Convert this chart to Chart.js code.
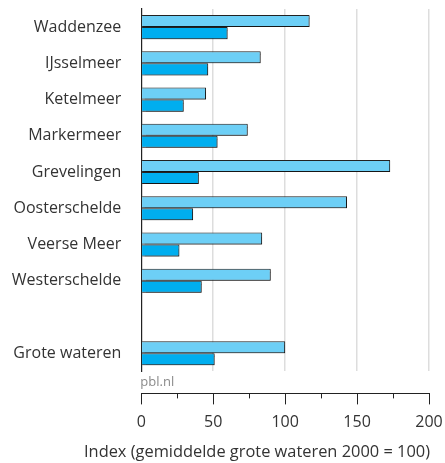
<!DOCTYPE html>
<html>
<head>
<meta charset="utf-8">
<script src="https://cdn.jsdelivr.net/npm/chart.js@4"></script>
<style>
  html, body { margin: 0; padding: 0; background: #fff; }
  #wrap { width: 445px; height: 463px; }
</style>
</head>
<body>
<div id="wrap"><canvas id="c"></canvas></div>
<script>
// Waters (an empty slot separates the individual waters from the total)
const categories = ['Waddenzee', 'IJsselmeer', 'Ketelmeer', 'Markermeer', 'Grevelingen',
  'Oosterschelde', 'Veerse Meer', 'Westerschelde', '', 'Grote wateren'];
// Index values (average of large waters in 2000 = 100)
const seriesLight = [117, 83, 45, 74, 173, 143, 84, 90, null, 100];
const seriesDark  = [60, 46.5, 29.5, 53, 40, 36, 26.5, 42, null, 51];
const xTicks = [0, 50, 100, 150, 200];
const minorTicks = [25, 75, 125, 175];
const axisTitle = 'Index (gemiddelde grote wateren 2000 = 100)';
const sourceNote = 'pbl.nl';

const FONT = '"Open Sans", "Noto Sans", sans-serif';
const TEXT = '#333333';

// drop shadow under bars, source note, minor ticks and the axis title
const extras = {
  id: 'extras',
  beforeDatasetsDraw(chart) {
    const ctx = chart.ctx;
    ctx.save();
    ctx.shadowColor = 'rgba(0,0,0,0.35)';
    ctx.shadowOffsetX = 1;
    ctx.shadowOffsetY = 1;
    ctx.shadowBlur = 1;
  },
  afterDatasetsDraw(chart) {
    chart.ctx.restore();
  },
  afterDraw(chart) {
    const ctx = chart.ctx;
    const area = chart.chartArea;
    const ax = chart.scales.x2;
    ctx.save();
    ctx.font = '13px ' + FONT;
    ctx.fillStyle = '#8a8a8a';
    ctx.textAlign = 'left';
    ctx.textBaseline = 'middle';
    ctx.fillText(sourceNote, area.left - 1, area.bottom + 11);

    ctx.strokeStyle = '#222';
    ctx.lineWidth = 1;
    minorTicks.forEach(v => {
      const x = Math.round(ax.getPixelForValue(v)) + 0.5;
      ctx.beginPath();
      ctx.moveTo(x, ax.top);
      ctx.lineTo(x, ax.top + 5);
      ctx.stroke();
    });

    // axis title, right-aligned with the plot and free to extend to the left
    ctx.font = '16.4px ' + FONT;
    ctx.fillStyle = TEXT;
    ctx.textAlign = 'right';
    ctx.textBaseline = 'alphabetic';
    ctx.fillText(axisTitle, area.right + 1, ax.bottom - 6);
    ctx.restore();
  }
};

const noSidePad = s => { s.paddingLeft = 0; s.paddingRight = 0; };

new Chart(document.getElementById('c'), {
  type: 'bar',
  data: {
    labels: categories,
    datasets: [
      { data: seriesLight, backgroundColor: '#6dcff6', borderColor: '#222', borderWidth: 1 },
      { data: seriesDark, backgroundColor: '#00aeef', borderColor: '#222', borderWidth: 1 }
    ]
  },
  options: {
    indexAxis: 'y',
    responsive: true,
    maintainAspectRatio: false,
    animation: false,
    events: [],
    layout: { padding: { top: 9, right: 16, left: 0, bottom: 0 } },
    datasets: { bar: { barPercentage: 1, categoryPercentage: 0.664 } },
    plugins: { legend: { display: false }, tooltip: { enabled: false } },
    scales: {
      y: {
        afterFit: s => { s.width = 141.3; s.paddingTop = 0; s.paddingBottom = 0; },
        grid: { display: false, drawTicks: false },
        border: { display: true, color: '#222', width: 1.2 },
        ticks: { color: TEXT, font: { family: FONT, size: 16 }, padding: 20, autoSkip: false }
      },
      x: {
        position: 'bottom',
        min: 0, max: 200,
        afterFit: noSidePad,
        afterBuildTicks: s => { s.ticks = xTicks.map(v => ({ value: v })); },
        grid: {
          color: c => (c.tick && c.tick.value === 0) ? 'rgba(0,0,0,0)' : '#dddddd',
          lineWidth: 1.5,
          drawTicks: true,
          tickLength: 22,
          tickColor: 'rgba(0,0,0,0)'
        },
        border: { display: false },
        ticks: { display: false }
      },
      x2: {
        position: 'bottom',
        type: 'linear',
        min: 0, max: 200,
        afterFit: s => { noSidePad(s); s.height = 69.6; },
        afterBuildTicks: s => { s.ticks = xTicks.map(v => ({ value: v })); },
        grid: { drawOnChartArea: false, drawTicks: true, tickLength: 11, tickColor: '#222', lineWidth: 1 },
        border: { display: true, color: '#222', width: 1 },
        ticks: { color: TEXT, font: { family: FONT, size: 16 }, padding: 8, maxRotation: 0 }
      }
    }
  },
  plugins: [extras]
});
</script>
</body>
</html>
